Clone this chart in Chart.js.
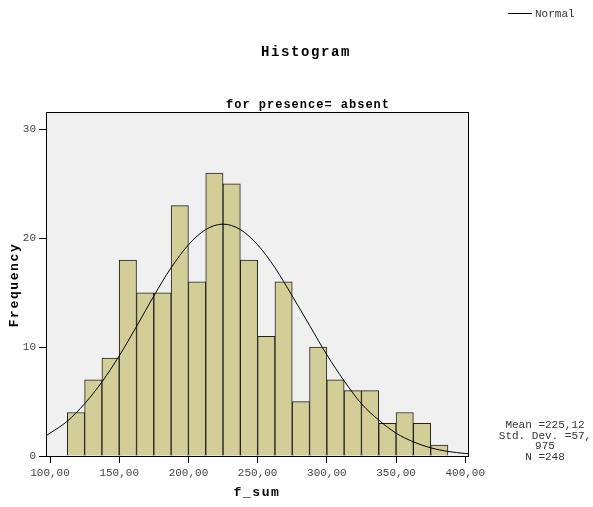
<!DOCTYPE html>
<html>
<head>
<meta charset="utf-8">
<script src="https://cdn.jsdelivr.net/npm/chart.js@4.4.0/dist/chart.umd.min.js"></script>
<style>
  html, body { margin: 0; padding: 0; background: #fff; }
  #wrap { width: 593px; height: 507px; position: relative; }
</style>
</head>
<body>
<div id="wrap"><canvas id="chart"></canvas></div>
<script>
// histogram bins (left edges, width 12.5) and counts
const binLeft = [112.5, 125, 137.5, 150, 162.5, 175, 187.5, 200, 212.5, 225, 237.5,
  250, 262.5, 275, 287.5, 300, 312.5, 325, 337.5, 350, 362.5, 375];
const binWidth = 12.5;
const frequency = [4, 7, 9, 18, 15, 15, 23, 16, 26, 25, 18, 11, 16, 5, 10, 7, 6, 6, 3, 4, 3, 1];

// normal curve
const curveX = [97.5, 100, 112.5, 125, 137.5, 150, 162.5, 175, 187.5, 200, 212.5, 225,
  237.5, 250, 262.5, 275, 287.5, 300, 312.5, 325, 337.5, 350, 362.5, 375, 387.5, 400, 402.5];
const curveY = [1.9, 2.1, 3.2, 4.8, 6.8, 9.2, 11.9, 14.7, 17.3, 19.4, 20.8, 21.3,
  20.8, 19.4, 17.3, 14.7, 12.0, 9.3, 6.9, 4.8, 3.3, 2.1, 1.3, 0.75, 0.42, 0.23, 0.2];

const statLines = ['Mean =225,12', 'Std. Dev. =57,', '975', 'N =248'];

const MONO = '"Liberation Mono", "Courier New", monospace';

const decor = {
  id: 'decor',
  beforeDraw(chart) {
    const { ctx, chartArea: a } = chart;
    ctx.save();
    ctx.fillStyle = '#f0f0f0';
    ctx.fillRect(a.left, a.top, a.right - a.left, a.bottom - a.top);
    ctx.restore();
  },
  afterDatasetsDraw(chart) {
    const { ctx, chartArea: a } = chart;
    ctx.save();
    ctx.strokeStyle = '#000';
    ctx.lineWidth = 1;
    ctx.strokeRect(a.left + 0.5, a.top + 0.5, a.right - a.left - 1, a.bottom - a.top);
    ctx.restore();
  },
  afterDraw(chart) {
    const ctx = chart.ctx;
    ctx.save();
    ctx.fillStyle = '#000';
    ctx.textBaseline = 'middle';
    ctx.textAlign = 'center';

    ctx.letterSpacing = '1.6px';
    ctx.font = 'bold 14px ' + MONO;
    ctx.fillText('Histogram', 306, 52);

    ctx.letterSpacing = '1px';
    ctx.font = 'bold 12px ' + MONO;
    ctx.fillText('for presence= absent', 308, 105);

    ctx.letterSpacing = '1.6px';
    ctx.font = 'bold 13px ' + MONO;
    ctx.fillText('f_sum', 257, 493);
    ctx.save();
    ctx.translate(15, 285);
    ctx.rotate(-Math.PI / 2);
    ctx.fillText('Frequency', 0, 0);
    ctx.restore();

    // legend
    ctx.letterSpacing = '0px';
    ctx.font = '11px ' + MONO;
    ctx.fillStyle = '#333';
    ctx.textAlign = 'left';
    ctx.fillText('Normal', 535, 14);
    ctx.strokeStyle = '#000';
    ctx.lineWidth = 1;
    ctx.beginPath();
    ctx.moveTo(508, 13.5);
    ctx.lineTo(532, 13.5);
    ctx.stroke();

    // stats
    ctx.textAlign = 'center';
    statLines.forEach((t, i) => ctx.fillText(t, 545, 425 + i * 10.7));
    ctx.restore();
  }
};

new Chart(document.getElementById('chart'), {
  type: 'bar',
  data: {
    datasets: [
      {
        type: 'line',
        label: 'Normal',
        data: curveX.map((x, i) => ({ x, y: curveY[i] })),
        borderColor: '#000',
        borderWidth: 1,
        pointRadius: 0,
        cubicInterpolationMode: 'monotone',
        fill: false,
        order: 0
      },
      {
        type: 'bar',
        label: 'f_sum',
        data: binLeft.map((l, i) => ({ x: l + binWidth / 2, y: frequency[i] })),
        backgroundColor: '#d3ce98',
        borderColor: '#222',
        borderWidth: 1,
        barPercentage: 1,
        categoryPercentage: 1,
        order: 1
      }
    ]
  },
  plugins: [decor],
  options: {
    responsive: true,
    maintainAspectRatio: false,
    animation: false,
    layout: { padding: { left: 0, top: 112, right: 124, bottom: 0 } },
    plugins: { legend: { display: false }, tooltip: { enabled: false } },
    scales: {
      x: {
        type: 'linear',
        min: 97.1,
        max: 402.7,
        offset: false,
        border: { display: false },
        grid: { display: true, offset: false, drawOnChartArea: false, drawTicks: true, tickLength: 7, tickColor: '#000' },
        ticks: {
          stepSize: 50,
          includeBounds: false,
          maxRotation: 0,
          padding: 3,
          color: '#444',
          font: { family: MONO, size: 11 },
          callback: v => v.toFixed(2).replace('.', ',')
        },
        afterFit(scale) { scale.height = 51; }
      },
      y: {
        min: 0,
        max: 31.6,
        border: { display: false },
        grid: { display: true, drawOnChartArea: false, drawTicks: true, tickLength: 7, tickColor: '#000' },
        ticks: {
          stepSize: 10,
          includeBounds: false,
          padding: 3,
          color: '#444',
          font: { family: MONO, size: 11 }
        },
        afterFit(scale) { scale.width = 46; }
      }
    }
  }
});
</script>
</body>
</html>
